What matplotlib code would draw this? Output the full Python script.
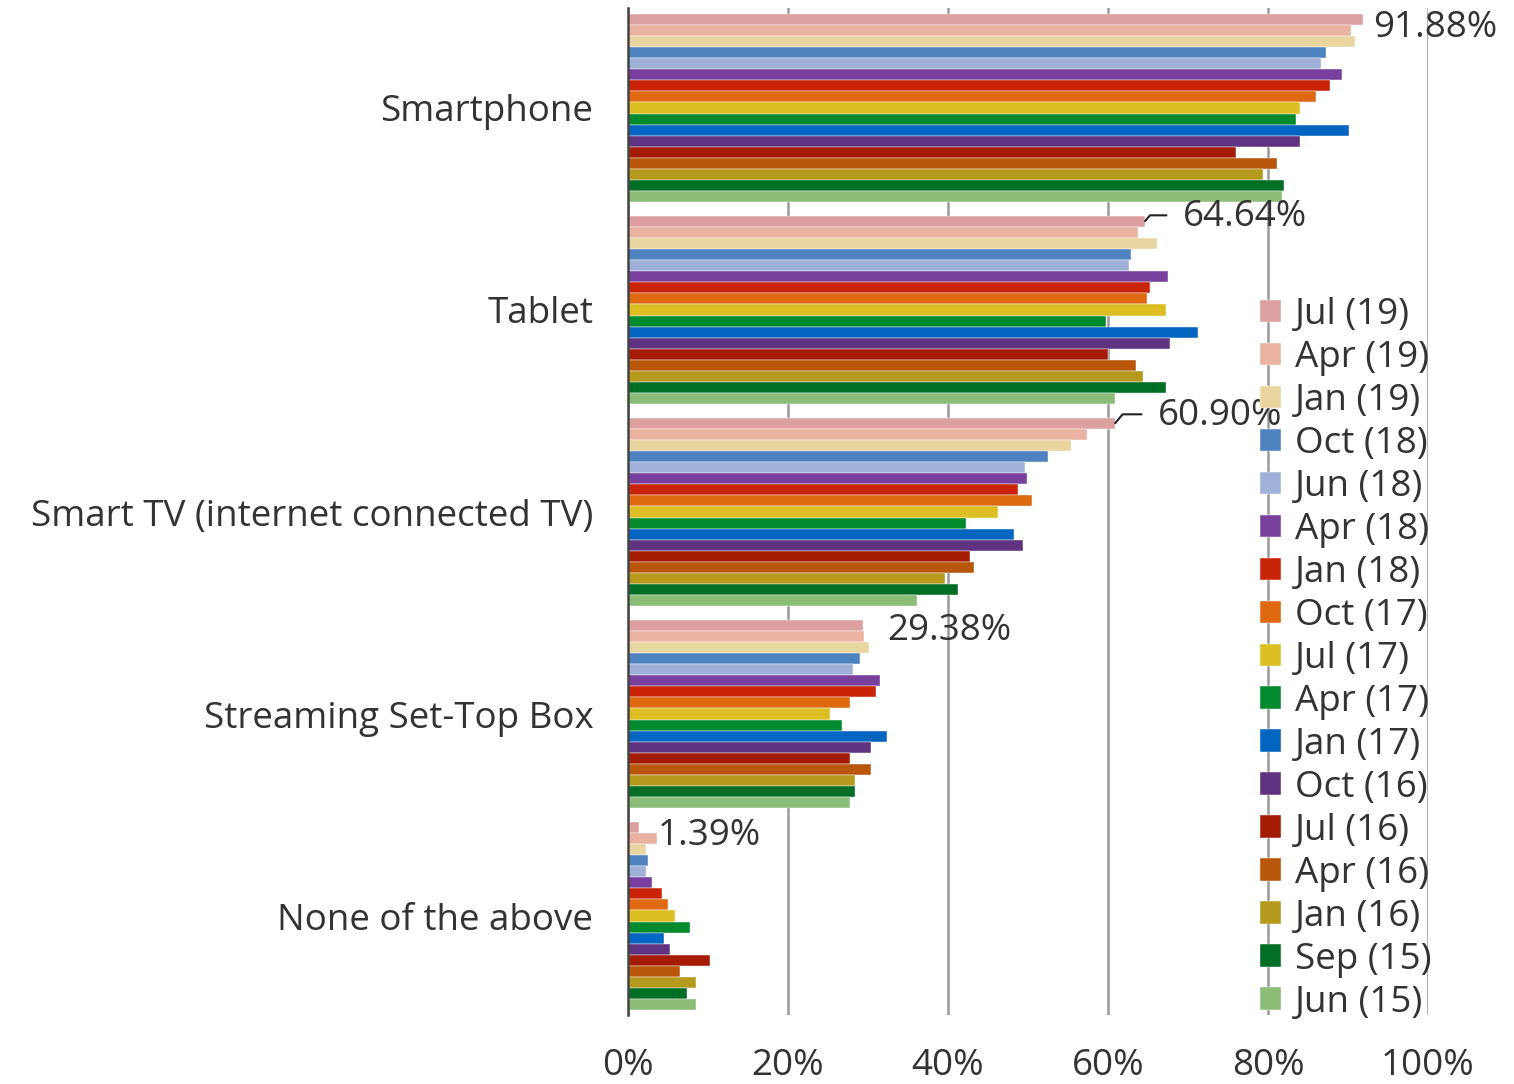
import numpy as np
import matplotlib
matplotlib.use("Agg")
import matplotlib.pyplot as plt
from matplotlib.ticker import FuncFormatter

plt.rcParams['font.family'] = ['Open Sans', 'DejaVu Sans']

devices = ["Smartphone", "Tablet", "Smart TV (internet connected TV)",
           "Streaming Set-Top Box", "None of the above"]

waves = ["Jul (19)", "Apr (19)", "Jan (19)", "Oct (18)", "Jun (18)", "Apr (18)",
         "Jan (18)", "Oct (17)", "Jul (17)", "Apr (17)", "Jan (17)", "Oct (16)",
         "Jul (16)", "Apr (16)", "Jan (16)", "Sep (15)", "Jun (15)"]

wave_colors = ["#DDA0A0", "#EAB2A0", "#E9D5A0", "#4F83BF", "#A0B1D9", "#78409C",
               "#C92408", "#DE6910", "#DDBE24", "#028A2E", "#0566C2", "#5F3380",
               "#A51C04", "#B8560B", "#B59A1E", "#006E24", "#8BBD78"]

# one list per device, ordered like `waves`
smartphone = [91.88, 90.4, 90.9, 87.2, 86.6, 89.2, 87.7, 86.0, 84.0, 83.5,
              90.1, 84.0, 76.0, 81.1, 79.4, 82.0, 81.8]
tablet = [64.64, 63.8, 66.1, 62.9, 62.6, 67.5, 65.2, 64.9, 67.2, 59.7,
          71.3, 67.8, 60.0, 63.5, 64.4, 67.2, 60.9]
smart_tv = [60.90, 57.4, 55.4, 52.5, 49.6, 49.9, 48.8, 50.5, 46.2, 42.2,
            48.2, 49.4, 42.7, 43.3, 39.6, 41.3, 36.1]
set_top_box = [29.38, 29.5, 30.1, 29.0, 28.1, 31.5, 31.0, 27.8, 25.2, 26.7,
               32.4, 30.4, 27.8, 30.4, 28.4, 28.4, 27.8]
none_above = [1.39, 3.6, 2.2, 2.5, 2.2, 3.0, 4.2, 5.0, 5.9, 7.7,
              4.5, 5.3, 10.25, 6.5, 8.5, 7.4, 8.5]

values = np.array([smartphone, tablet, smart_tv, set_top_box, none_above])

text_color = "#333333"
fsize = 26.5
bar_h = 0.055

fig = plt.figure(figsize=(15.14, 10.84), dpi=100)
ax = fig.add_axes([628 / 1514, 1 - 1015 / 1084, 800 / 1514, 1007 / 1084])

cat_pos = np.arange(len(devices))
n = len(waves)
for j in range(n):
    y = cat_pos + (j - (n - 1) / 2) * bar_h
    ax.barh(y, values[:, j], height=bar_h, color=wave_colors[j],
            edgecolor="white", linewidth=0.3, label=waves[j], zorder=2)

ax.set_xlim(0, 100)
ax.set_ylim(4.49, -0.495)
ax.set_xticks([0, 20, 40, 60, 80, 100])
ax.xaxis.set_major_formatter(FuncFormatter(lambda v, p: f"{v:.0f}%"))
ax.set_yticks(cat_pos)
ax.set_yticklabels(devices)
ax.tick_params(axis='both', length=0, labelsize=fsize, colors=text_color)
ax.tick_params(axis='x', pad=24)
ax.tick_params(axis='y', pad=25)

ax.grid(axis='x', color="#999999", linewidth=1.8, zorder=0)
for side in ["top", "right", "bottom"]:
    ax.spines[side].set_visible(False)
ax.spines["left"].set_color("#444444")
ax.spines["left"].set_linewidth(1.8)
ax.spines["left"].set_zorder(3)

# value labels on the newest wave
top_y = cat_pos + (0 - (n - 1) / 2) * bar_h
label_style = dict(fontsize=fsize, color=text_color, va="center", ha="left",
                   textcoords="offset pixels")
leader = dict(arrowstyle="-", color="#222222", lw=1.5, shrinkA=10, shrinkB=0,
              connectionstyle="angle,angleA=0,angleB=50,rad=0",
              relpos=(0, 0.55))
ax.annotate(f"{smartphone[0]:.2f}%", xy=(smartphone[0], top_y[0]),
            xytext=(10, -9), **label_style)
ax.annotate(f"{tablet[0]:.2f}%", xy=(tablet[0], top_y[1]),
            xytext=(38, 4), arrowprops=leader, **label_style)
ax.annotate(f"{smart_tv[0]:.2f}%", xy=(smart_tv[0], top_y[2]),
            xytext=(43, 7), arrowprops=leader, **label_style)
ax.annotate(f"{set_top_box[0]:.2f}%", xy=(set_top_box[0], top_y[3]),
            xytext=(24, -6), **label_style)
ax.annotate(f"{none_above[0]:.2f}%", xy=(none_above[0], top_y[4]),
            xytext=(19, -9), **label_style)

ax.legend(loc="upper left", bbox_to_anchor=(1260 / 1514, 1 - 297 / 1084),
          bbox_transform=fig.transFigure, frameon=False, fontsize=fsize,
          labelcolor=text_color, handlelength=0.58, handleheight=0.58,
          handletextpad=0.36, labelspacing=0.19, borderpad=0, borderaxespad=0)

fig.savefig("out.png", dpi=100)
